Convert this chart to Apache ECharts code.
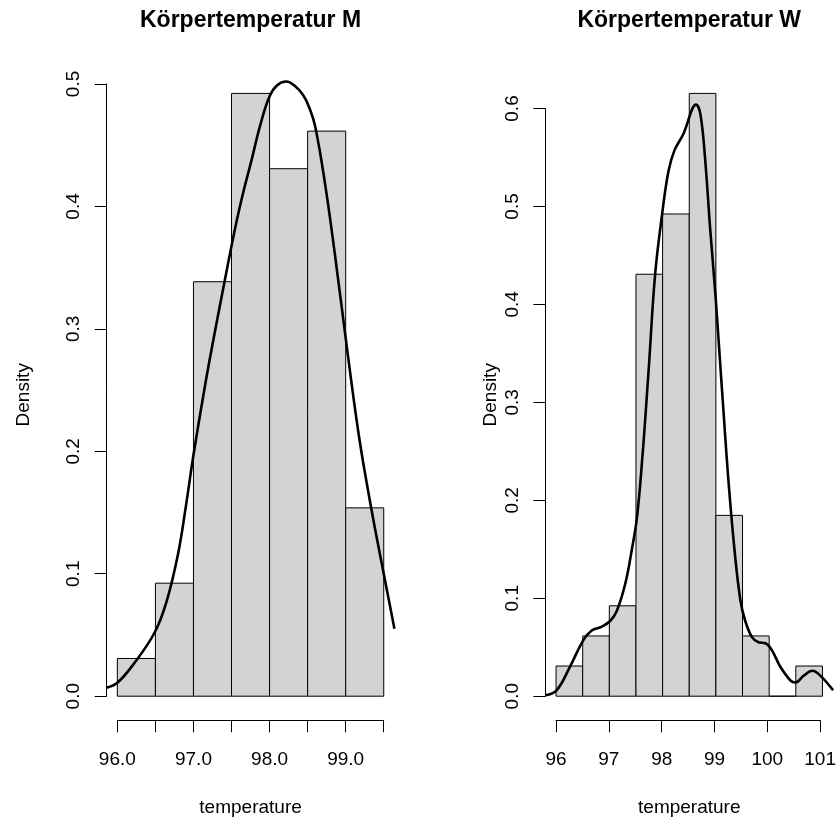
<!DOCTYPE html>
<html><head><meta charset="utf-8">
<script src="https://cdn.jsdelivr.net/npm/echarts@6/dist/echarts.min.js"></script>
<style>html,body{margin:0;padding:0;background:#fff}#c{width:839px;height:823px}</style>
</head><body><div id="c"></div>
<script>
// ---- data ----
const titleM = 'Körpertemperatur M';
const titleW = 'Körpertemperatur W';
const xName = 'temperature';
const yName = 'Density';

const mBreaks = [96.0, 96.5, 97.0, 97.5, 98.0, 98.5, 99.0, 99.5];
const mDensity = [0.0308, 0.0923, 0.3385, 0.4923, 0.4308, 0.4615, 0.1538];
const wBreaks = [96.0, 96.5, 97.0, 97.5, 98.0, 98.5, 99.0, 99.5, 100.0, 100.5, 101.0];
const wDensity = [0.0308, 0.0615, 0.0923, 0.4308, 0.4923, 0.6154, 0.1846, 0.0615, 0.0, 0.0308];

const mCurveX = [95.86, 96.00, 96.21, 96.49, 96.65, 96.80, 96.90, 97.00, 97.15, 97.24, 97.41, 97.55, 97.66, 97.76, 97.88, 98.00, 98.10, 98.22, 98.33, 98.44, 98.52, 98.60, 98.73, 98.86, 99.03, 99.18, 99.34, 99.45, 99.60, 99.64];
const mCurveY = [0.007, 0.011, 0.026, 0.052, 0.078, 0.117, 0.155, 0.197, 0.253, 0.284, 0.339, 0.383, 0.413, 0.437, 0.467, 0.490, 0.499, 0.502, 0.4985, 0.491, 0.481, 0.465, 0.418, 0.360, 0.278, 0.210, 0.152, 0.116, 0.068, 0.055];
const wCurveX = [95.80, 96.01, 96.26, 96.51, 96.67, 96.86, 97.02, 97.14, 97.30, 97.42, 97.52, 97.63, 97.72, 97.75, 97.86, 98.00, 98.11, 98.22, 98.39, 98.63, 98.71, 98.80, 98.89, 98.99, 99.07, 99.15, 99.24, 99.35, 99.46, 99.55, 99.68, 99.80, 99.93, 100.05, 100.21, 100.40, 100.49, 100.65, 100.81, 100.96, 101.20];
const wCurveY = [0.001, 0.006, 0.030, 0.057, 0.067, 0.071, 0.077, 0.087, 0.115, 0.149, 0.183, 0.251, 0.319, 0.343, 0.431, 0.496, 0.536, 0.557, 0.574, 0.604, 0.594, 0.547, 0.479, 0.411, 0.348, 0.285, 0.217, 0.149, 0.098, 0.077, 0.060, 0.055, 0.054, 0.047, 0.030, 0.016, 0.014, 0.021, 0.026, 0.021, 0.006];

const mXTickValues = [96, 97, 98, 99];
const mXTickLabels = ['96.0', '97.0', '98.0', '99.0'];
const wXTickValues = [96, 97, 98, 99, 100, 101];
const wXTickLabels = ['96', '97', '98', '99', '100', '101'];
const mYTickValues = [0, 0.1, 0.2, 0.3, 0.4, 0.5];
const mYTickLabels = ['0.0', '0.1', '0.2', '0.3', '0.4', '0.5'];
const wYTickValues = [0, 0.1, 0.2, 0.3, 0.4, 0.5, 0.6];
const wYTickLabels = ['0.0', '0.1', '0.2', '0.3', '0.4', '0.5', '0.6'];

// ---- layout ----
const FONT = '"Liberation Sans", Arial, Helvetica, sans-serif';
const PLOT_TOP = 69.3, PLOT_H = 651, PLOT_W = 287.7;
const panels = [
  {left: 106.7, title: titleM, breaks: mBreaks, dens: mDensity, cx: mCurveX, cy: mCurveY,
   xt: [0.5, mXTickValues, mXTickLabels], yt: [0.1, mYTickValues, mYTickLabels], yNameGap: 73},
  {left: 545.4, title: titleW, breaks: wBreaks, dens: wDensity, cx: wCurveX, cy: wCurveY,
   xt: [1, wXTickValues, wXTickLabels], yt: [0.1, wYTickValues, wYTickLabels], yNameGap: 45}
];

function labelFmt(vals, labs) {
  return function (v) {
    const i = vals.findIndex(t => Math.abs(t - v) < 1e-6);
    return i >= 0 ? labs[i] : '';
  };
}

const grid = [], xAxis = [], yAxis = [], series = [], graphic = [];
panels.forEach((p, k) => {
  const xlo0 = p.breaks[0], xhi0 = p.breaks[p.breaks.length - 1];
  const xpad = 0.04 * (xhi0 - xlo0);
  const xlo = xlo0 - xpad, xhi = xhi0 + xpad;
  const ymax0 = Math.max.apply(null, p.dens);
  const ylo = -0.04 * ymax0, yhi = ymax0 * 1.04;
  const gMain = grid.length;
  grid.push({left: p.left, top: PLOT_TOP, width: PLOT_W, height: PLOT_H});
  xAxis.push({gridIndex: gMain, type: 'value', min: xlo, max: xhi,
    axisLine: {show: false}, axisTick: {show: false}, axisLabel: {show: false}, splitLine: {show: false},
    name: xName, nameLocation: 'middle', nameGap: 78,
    nameTextStyle: {fontSize: 19, color: '#000', fontFamily: FONT}});
  yAxis.push({gridIndex: gMain, type: 'value', min: ylo, max: yhi,
    axisLine: {show: false}, axisTick: {show: false}, axisLabel: {show: false}, splitLine: {show: false},
    name: yName, nameLocation: 'middle', nameGap: p.yNameGap, nameRotate: 90,
    nameTextStyle: {fontSize: 19, color: '#000', fontFamily: FONT}});

  // x axis (R style, from first to last tick)
  const xTickHi = p.breaks[p.breaks.length - 1];
  const xl = p.left + (xlo0 - xlo) / (xhi - xlo) * PLOT_W;
  const xw = (xTickHi - xlo0) / (xhi - xlo) * PLOT_W;
  const gX = grid.length;
  grid.push({left: xl, width: xw, top: PLOT_TOP + PLOT_H - 1, height: 1});
  xAxis.push({gridIndex: gX, type: 'value', min: xlo0, max: xTickHi, interval: p.xt[0], position: 'bottom',
    axisLine: {show: true, onZero: false, lineStyle: {color: '#000', width: 1}},
    axisTick: {show: true, length: 12, lineStyle: {color: '#000', width: 1}},
    axisLabel: {show: true, margin: 30, fontSize: 19, color: '#000', fontFamily: FONT,
      showMinLabel: true, showMaxLabel: true, formatter: labelFmt(p.xt[1], p.xt[2])},
    splitLine: {show: false}});
  yAxis.push({gridIndex: gX, type: 'value', min: 0, max: 1, show: false});

  // y axis
  const yv = p.yt[1];
  const yTop = yv[yv.length - 1], yBot = yv[0];
  const yt = PLOT_TOP + (yhi - yTop) / (yhi - ylo) * PLOT_H;
  const yh = (yTop - yBot) / (yhi - ylo) * PLOT_H;
  const gY = grid.length;
  grid.push({left: p.left, width: 1, top: yt, height: yh});
  xAxis.push({gridIndex: gY, type: 'value', min: 0, max: 1, show: false});
  yAxis.push({gridIndex: gY, type: 'value', min: yBot, max: yTop, interval: p.yt[0], position: 'left',
    axisLine: {show: true, onZero: false, lineStyle: {color: '#000', width: 1}},
    axisTick: {show: true, length: 12, lineStyle: {color: '#000', width: 1}},
    axisLabel: {show: true, margin: 23.5, rotate: 90, fontSize: 19, color: '#000', fontFamily: FONT,
      showMinLabel: true, showMaxLabel: true, formatter: labelFmt(p.yt[1], p.yt[2])},
    splitLine: {show: false}});

  const barData = p.dens.map((d, i) => [p.breaks[i], p.breaks[i + 1], d]);
  series.push({type: 'custom', xAxisIndex: gMain, yAxisIndex: gMain, data: barData, z: 2,
    encode: {x: [0, 1], y: 2},
    renderItem: function (params, api) {
      const a = api.coord([api.value(0), 0]);
      const b = api.coord([api.value(1), api.value(2)]);
      return {type: 'rect', shape: {x: a[0], y: b[1], width: b[0] - a[0], height: a[1] - b[1]},
        style: {fill: '#d3d3d3', stroke: '#000', lineWidth: 1}};
    }});
  series.push({type: 'line', xAxisIndex: gMain, yAxisIndex: gMain, z: 3,
    data: p.cx.map((x, i) => [x, p.cy[i]]), smooth: 0.4, symbol: 'none', clip: true,
    lineStyle: {color: '#000', width: 2.6}});

  graphic.push({type: 'text', x: p.left + PLOT_W / 2, y: 21,
    style: {text: p.title, fill: '#000', font: 'bold 23px ' + FONT, align: 'center', verticalAlign: 'middle'}});
});

const chart = echarts.init(document.getElementById('c'), null, {renderer: 'canvas'});
chart.setOption({animation: false, backgroundColor: '#fff', grid, xAxis, yAxis, series, graphic});
</script></body></html>
